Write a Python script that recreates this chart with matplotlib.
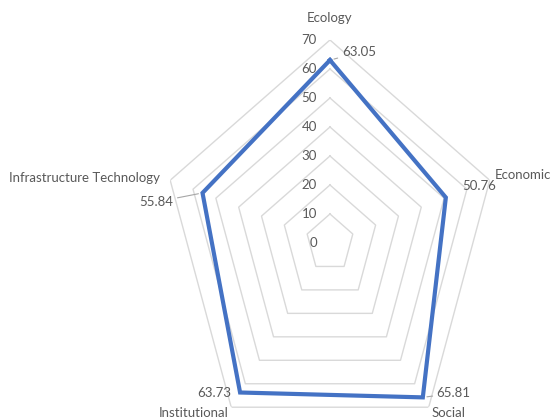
import numpy as np
import matplotlib
matplotlib.use('Agg')
import matplotlib.pyplot as plt

# datos del radar
categorias = ['Ecology', 'Economic', 'Social', 'Institutional', 'Infrastructure Technology']
valores = [63.05, 50.76, 65.81, 63.73, 55.84]
niveles = [0, 10, 20, 30, 40, 50, 60, 70]

plt.rcParams['font.family'] = ['Lato', 'DejaVu Sans']
gris = '#595959'
azul = '#4472C4'
fs = 9.5

fig = plt.figure(figsize=(5.53, 4.19), dpi=100)
ax = fig.add_axes([0.2929, -0.0644, 0.6076, 0.969], projection='polar')
ax.set_aspect('auto')
ax.set_theta_offset(np.pi / 2)
ax.set_theta_direction(-1)
ax.set_ylim(0, 70)
ax.axis('off')

n = len(categorias)
ang = np.arange(n) * 2 * np.pi / n
ang_c = np.append(ang, ang[0])

# rejilla pentagonal (sin radios)
for r in niveles[1:]:
    ax.plot(ang_c, [r] * (n + 1), color='#D9D9D9', lw=1, zorder=1)

# serie
ax.plot(ang_c, valores + [valores[0]], color=azul, lw=3, zorder=3, solid_joinstyle='miter')

# etiquetas del eje radial
for r in niveles:
    ax.annotate(str(r), xy=(0, r), xytext=(-9.5, 0), textcoords='offset points',
                ha='right', va='center', fontsize=fs, color=gris, annotation_clip=False)

# etiquetas de categorias
off_cat = [(0, 16, 'center'), (3.5, 3.5, 'left'), (2, -4.5, 'left'),
           (-2, -4, 'right'), (-7, 1.5, 'right')]
for a, c, (dx, dy, ha) in zip(ang, categorias, off_cat):
    ax.annotate(c, xy=(a, 70), xytext=(dx, dy), textcoords='offset points',
                ha=ha, va='center', fontsize=fs, color=gris, annotation_clip=False)

# etiquetas de datos
off_val = [(8.5, 5.5, 'left', True), (12, 8, 'left', False), (10, 3, 'left', True),
           (-6.5, 0, 'right', False), (-21, -6.5, 'right', True)]
for a, v, (dx, dy, ha, linea) in zip(ang, valores, off_val):
    props = dict(arrowstyle='-', color='#A6A6A6', lw=0.8, shrinkA=1, shrinkB=3) if linea else None
    ax.annotate(f'{v:.2f}', xy=(a, v), xytext=(dx, dy), textcoords='offset points',
                ha=ha, va='center', fontsize=fs, color=gris, annotation_clip=False,
                arrowprops=props)

fig.savefig('out.png', dpi=100)
